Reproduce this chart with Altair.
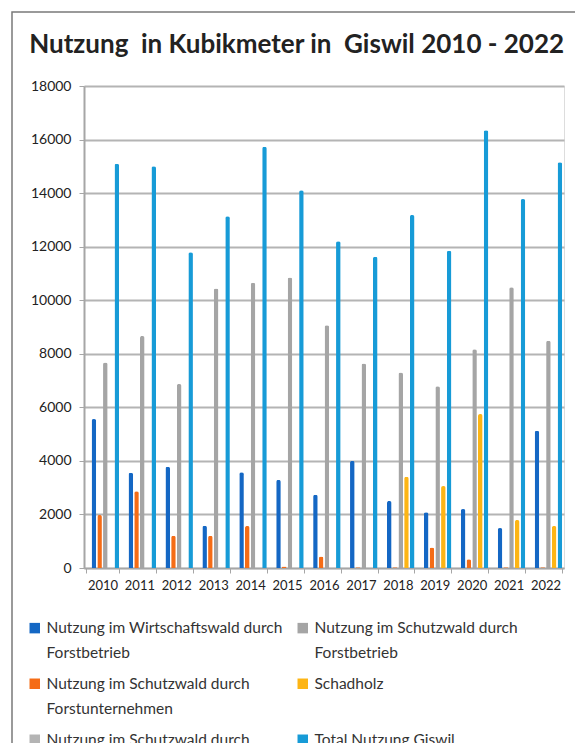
import altair as alt
import pandas as pd

years = [str(y) for y in range(2010, 2023)]
series_names = [
    "Nutzung im Wirtschaftswald durch Forstbetrieb",
    "Nutzung im Schutzwald durch Forstbetrieb",
    "Nutzung im Schutzwald durch Forstunternehmen",
    "Schadholz",
    "Nutzung im Schutzwald durch",
    "Total Nutzung Giswil",
]
series_colors = ["#1467C4", "#A5A5A5", "#F56C16", "#FDB515", "#B4B4B4", "#179BD7"]
# legend is filled column by column: reorder so it reads row by row
legend_order = [series_names[i] for i in [0, 2, 4, 1, 3, 5]]
legend_colors = [series_colors[i] for i in [0, 2, 4, 1, 3, 5]]
bar_order = [series_names[i] for i in [4, 0, 2, 1, 3, 5]]

wirtschaftswald = [5560, 3560, 3780, 1580, 3580, 3290, 2740, 4000, 2500, 2080, 2200, 1490, 5130]
schutz_forstbetrieb = [7670, 8660, 6870, 10440, 10650, 10850, 9070, 7640, 7300, 6790, 8170, 10480, 8490]
schutz_unternehmen = [1980, 2870, 1200, 1200, 1570, 60, 430, 30, 30, 770, 330, 30, 30]
schadholz = [0, 0, 0, 0, 0, 0, 0, 0, 3410, 3060, 5750, 1790, 1570]
schutz_other = [0, 0, 0, 0, 0, 0, 0, 0, 0, 0, 0, 0, 0]
total = [15100, 15000, 11790, 13140, 15730, 14110, 12200, 11620, 13180, 11850, 16350, 13780, 15150]
y_ticks = list(range(0, 18001, 2000))

values = [wirtschaftswald, schutz_forstbetrieb, schutz_unternehmen, schadholz, schutz_other, total]
rows = []
for name, vals in zip(series_names, values):
    for yr, v in zip(years, vals):
        rows.append({"year": yr, "series": name, "value": v})
df = pd.DataFrame(rows)

FONT = "Lato"
W, H = 480, 482

bars = alt.Chart(df).mark_bar(cornerRadiusEnd=2).encode(
    x=alt.X("year:N", sort=years,
            scale=alt.Scale(paddingInner=0.1, paddingOuter=0.05),
            axis=alt.Axis(title=None, labelAngle=0, labelFontSize=13, labelFont=FONT,
                          labelColor="#222", tickBand="extent", tickSize=5,
                          tickColor="#a6a6a6", domainColor="#a6a6a6", domainWidth=1.5,
                          labelPadding=6, grid=False)),
    xOffset=alt.XOffset("series:N", scale=alt.Scale(domain=bar_order, paddingInner=0.2, paddingOuter=0)),
    y=alt.Y("value:Q", scale=alt.Scale(domain=[0, 18000], nice=False),
            axis=alt.Axis(title=None, values=y_ticks, format="d", labelFontSize=14,
                          labelFont=FONT, labelColor="#222", tickSize=5,
                          tickColor="#a6a6a6", domainColor="#a6a6a6", domainWidth=2,
                          gridColor="#b4b4b4", gridWidth=2, labelPadding=8)),
    color=alt.Color("series:N",
                    scale=alt.Scale(domain=legend_order, range=legend_colors),
                    legend=alt.Legend(title=None, orient="none", legendX=-57, legendY=534,
                                      columns=2, columnPadding=12, rowPadding=14,
                                      symbolType="square", symbolSize=110,
                                      symbolStrokeWidth=0, labelFontSize=15.5,
                                      labelFont=FONT, labelColor="#333", labelLimit=400,
                                      labelExpr="split(replace(datum.label, ' durch ', ' durch|'), '|')")),
)

frame = alt.Chart(pd.DataFrame({"f": [0]})).mark_rect(
    fill="transparent", stroke="#7a7a7a", strokeWidth=1.5, clip=False
).encode(
    x=alt.value(-72), x2=alt.value(W + 60), y=alt.value(-74), y2=alt.value(H + 260)
)

chart = alt.layer(bars, frame).properties(
    width=W, height=H,
    autosize=alt.AutoSizeParams(type="none"),
    padding={"left": 76, "top": 78, "right": 11, "bottom": 175},
    title=alt.TitleParams("Nutzung\u00a0 in Kubikmeter in\u00a0 Giswil 2010 - 2022", anchor="start",
                          font=FONT, fontSize=26, fontWeight="bold", color="#222",
                          dx=18, offset=0, dy=47),
).configure_view(stroke=None).configure(
    background="white",
    style={"guide-label": {"lineHeight": 25}},
)

chart.save("out.html", embed_options={"renderer": "svg", "actions": False})
